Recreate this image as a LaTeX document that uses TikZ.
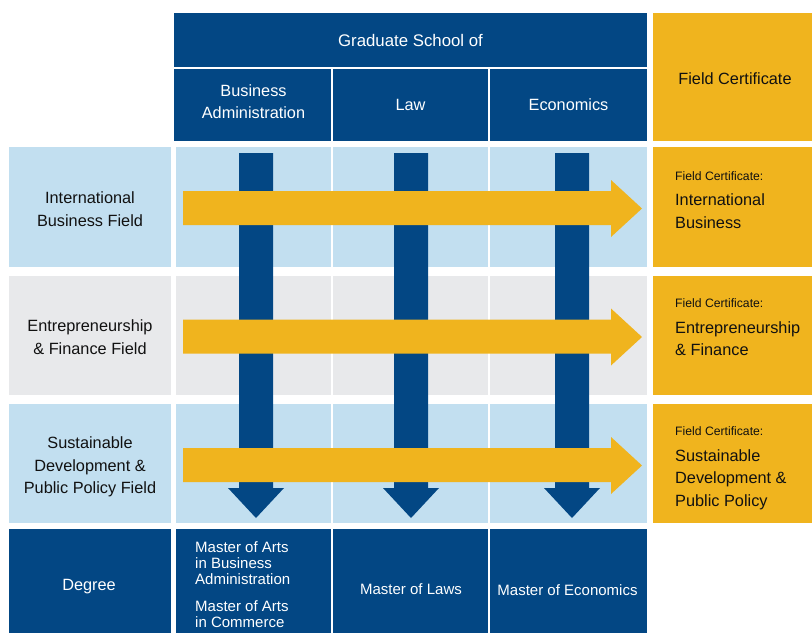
\documentclass[tikz,border=0pt]{standalone}
\usepackage{fontspec}
\setmainfont{Liberation Sans}
\definecolor{dblue}{HTML}{034784}
\definecolor{lblue}{HTML}{C2DFF0}
\definecolor{lgray}{HTML}{E8E9EB}
\definecolor{yel}{HTML}{F0B41E}
\definecolor{ink}{HTML}{111111}
\begin{document}
\begin{tikzpicture}[x=1pt,y=-1pt,
  box/.style={rectangle, inner sep=0pt, outer sep=0pt, anchor=north west, align=center, font=\fontsize{16.3}{22.5}\selectfont},
  hdr/.style={box, fill=dblue, text=white},
  lb/.style={box, fill=lblue, text=ink},
  gr/.style={box, fill=lgray, text=ink},
  ye/.style={box, fill=yel, text=ink},
  lbl/.style={inner sep=0pt, anchor=center, align=center, font=\fontsize{16.3}{22.5}\selectfont},
  certtext/.style={inner sep=0pt, anchor=north west, align=left, text=ink, font=\fontsize{16.3}{22.5}\selectfont},
  degtext/.style={inner sep=0pt, anchor=north west, align=left, text=white, font=\fontsize{15}{16}\selectfont},
  varrow/.style={fill=dblue, draw=none},
  harrow/.style={fill=yel, draw=none}]
\useasboundingbox (0,0) rectangle (812,633);
% header
\node[hdr, minimum width=473, minimum height=54, font=\fontsize{16.8}{22}\selectfont] (gs) at (174,13) {Graduate School of};
\node[hdr, minimum width=157, minimum height=72] (hba) at (174,69) {};
\node[lbl, text=white] (hbat) at (253.5,101.5) {Business\\Administration};
\node[hdr, minimum width=155, minimum height=72] (hlaw) at (333,69) {Law};
\node[hdr, minimum width=157, minimum height=72] (hecon) at (490,69) {Economics};
\node[ye, minimum width=159, minimum height=128] (hcert) at (653,13) {};
\node[lbl, text=ink] (hcertt) at (735,78.5) {Field Certificate};
% row 1
\node[lb, minimum width=162, minimum height=120] (l1) at (9,147) {};
\node[lbl, text=ink] (l1t) at (90,209) {International\\Business Field};
\node[lb, minimum width=155, minimum height=120] (c11) at (176,147) {};
\node[lb, minimum width=155, minimum height=120] (c12) at (333,147) {};
\node[lb, minimum width=157, minimum height=120] (c13) at (490,147) {};
\node[ye, minimum width=159, minimum height=120] (f1) at (653,147) {};
% row 2
\node[gr, minimum width=162, minimum height=119] (l2) at (9,276) {};
\node[lbl, text=ink] (l2t) at (90,337) {Entrepreneurship\\\& Finance Field};
\node[gr, minimum width=155, minimum height=119] (c21) at (176,276) {};
\node[gr, minimum width=155, minimum height=119] (c22) at (333,276) {};
\node[gr, minimum width=157, minimum height=119] (c23) at (490,276) {};
\node[ye, minimum width=159, minimum height=119] (f2) at (653,276) {};
% row 3
\node[lb, minimum width=162, minimum height=119] (l3) at (9,404) {};
\node[lbl, text=ink] (l3t) at (90,467) {Sustainable\\Development \&\\Public Policy Field};
\node[lb, minimum width=155, minimum height=119] (c31) at (176,404) {};
\node[lb, minimum width=155, minimum height=119] (c32) at (333,404) {};
\node[lb, minimum width=157, minimum height=119] (c33) at (490,404) {};
\node[ye, minimum width=159, minimum height=119] (f3) at (653,404) {};
% degree row
\node[hdr, minimum width=162, minimum height=104] (deg) at (9,529) {};
\node[lbl, text=white] (degt) at (89,587) {Degree};
\node[hdr, minimum width=155, minimum height=104] (dba) at (176,529) {};
\node[hdr, minimum width=155, minimum height=104] (dlaw) at (333,529) {};
\node[lbl, text=white, font=\fontsize{15}{16}\selectfont] (dlawt) at (411,589) {Master of Laws};
\node[hdr, minimum width=157, minimum height=104] (decon) at (490,529) {};
\node[lbl, text=white, font=\fontsize{15}{16}\selectfont] (decont) at (567.5,590) {Master of Economics};
\node[degtext] (dbatext) at (195,541.5) {Master of Arts\\in Business\\Administration\\[11pt]Master of Arts\\in Commerce};
% certificate texts
\node[certtext] (f1t) at (675,171) {{\fontsize{12.2}{14}\selectfont Field Certificate:}\\[3pt]International\\Business};
\node[certtext] (f2t) at (675,298.5) {{\fontsize{12.2}{14}\selectfont Field Certificate:}\\[3pt]Entrepreneurship\\\& Finance};
\node[certtext] (f3t) at (675,426.5) {{\fontsize{12.2}{14}\selectfont Field Certificate:}\\[3pt]Sustainable\\Development \&\\Public Policy};
% vertical arrows
\foreach \c in {256,411,572} {
  \fill[varrow] (\c-17,153) -- (\c+17,153) -- (\c+17,488) -- (\c+28,488) -- (\c,518) -- (\c-28,488) -- (\c-17,488) -- cycle;
}
% horizontal arrows
\foreach \d in {0,128.5,257} {
  \fill[harrow] (183,191+\d) -- (611,191+\d) -- (611,180+\d) -- (642,208.5+\d) -- (611,237+\d) -- (611,225+\d) -- (183,225+\d) -- cycle;
}
\end{tikzpicture}
\end{document}
